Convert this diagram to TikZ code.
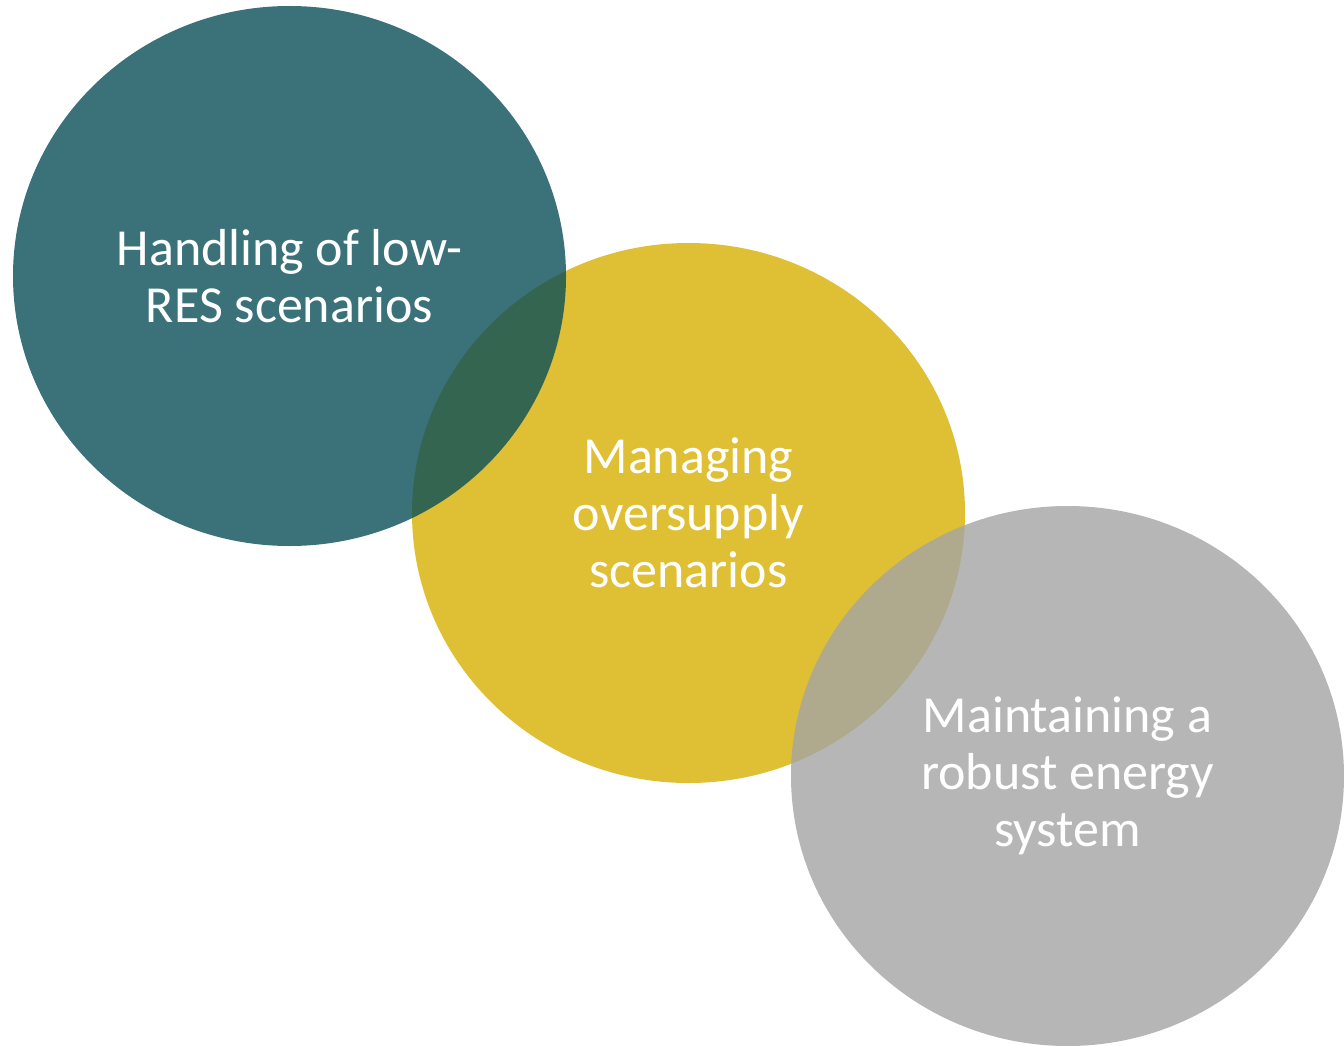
\documentclass[tikz,border=0pt]{standalone}
\usepackage{fontspec}
\setmainfont{Carlito}
\usetikzlibrary{shapes.geometric}
\definecolor{tealbase}{RGB}{10,79,89}
\definecolor{mustard}{RGB}{223,191,51}
\definecolor{greybase}{RGB}{164,164,164}
\tikzset{
  bubble/.style={ellipse, inner sep=0pt, minimum width=553pt, minimum height=540pt,
    text=white, text opacity=1, align=center,
    font=\fontsize{52}{57}\selectfont},
}
\begin{document}
\begin{tikzpicture}[x=1pt,y=-1pt]
  \useasboundingbox (0,0) rectangle (1344,1046);
  % middle circle, opaque
  \node[bubble, fill=mustard] (oversupply) at (688.5,513) {Managing\\oversupply\\scenarios};
  % translucent circles on top
  \node[bubble, fill=tealbase, fill opacity=0.8] (lowres) at (289.5,276) {Handling of low-\\RES scenarios};
  \node[bubble, fill=greybase, fill opacity=0.8] (robust) at (1067.5,776) {Maintaining a\\robust energy\\system};
\end{tikzpicture}
\end{document}
